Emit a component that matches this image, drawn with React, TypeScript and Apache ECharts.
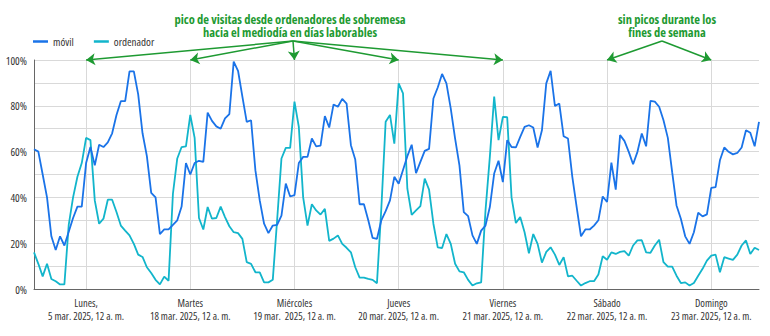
import React, { useEffect, useRef } from "react";
import * as echarts from "echarts";

const dayLabels = [
  "Lunes,\n5 mar. 2025, 12 a. m.",
  "Martes\n18 mar. 2025, 12 a. m.",
  "Miércoles\n19 mar.  2025, 12 a. m.",
  "Jueves\n20 mar. 2025, 12 a. m.",
  "Viernes\n21 mar. 2025, 12 a. m.",
  "Sábado\n22 mar. 2025, 12 a. m.",
  "Domingo\n23 mar. 2025, 12 a. m.",
];

const yTicks = [0, 20, 40, 60, 80, 100];

const mobile = [
  61, 60, 50, 40, 23, 17, 23, 19, 25, 31, 36, 36, 55, 62, 54, 63, 62, 64, 68, 76,
  82, 82, 95, 95, 85, 68, 58, 42, 40, 24, 26, 26, 28, 30, 36, 55, 50, 55, 56,
  55.5, 77, 73.4, 71, 70, 74.5, 76.4, 99.3, 95.3, 84, 73, 73.7, 51.8, 38.7, 28.5,
  24.4, 27.7, 28, 32, 46, 40.4, 41, 55, 57.7, 57.7, 65.7, 62.3, 62.6, 75.5, 70.5,
  80.6, 79.6, 83, 81, 62.8, 56.5, 37, 37, 30, 22.3, 21.9, 30, 34, 38.7,
  49, 46, 52, 58, 63, 50.6, 55.5, 60.3, 61.2, 83.2, 88, 93.9, 89.8, 78.8, 65.7, 54,
  33.6, 31.8, 23.4, 19.7, 25.5, 27.7, 35.8, 50.4, 56, 46.7, 65, 62, 61.8, 66.4,
  70.8, 71.5, 70.5, 61.8, 69.3, 89.8, 95.3, 79.9, 81, 66.7, 65.7, 49, 35.8, 23,
  26, 26, 27.7, 30, 40.4, 38, 55.2, 43.4, 67.2, 64.7, 59.9, 54.5, 59.9, 67.9, 62.3,
  82.2, 81.8, 79.6, 73.7, 66, 51, 36.5, 30.7, 23, 19.7, 24.8, 33.3, 31.7, 32.6,
  44.2, 44.5, 56.2, 61.8, 59.9, 58.8, 59.4, 61.8, 69.3, 68.2, 62.3, 73,
];

const desktop = [
  16, 11, 5.5, 11, 4.4, 3.4, 2, 2, 28, 40, 49, 55, 66, 65, 38.7, 28.5, 30.7, 39, 39,
  33.6, 27.7, 25.5, 23.4, 19.7, 15, 14, 9.5, 7, 4, 2, 5.4, 3.6, 41.6, 57, 62, 62.3,
  76, 66, 31,
  26, 35.8, 30.7, 31, 36, 31.4, 27.4, 24.8, 24.4, 21.9, 11.7, 11, 7.3, 7.3, 2.9, 2.9,
  4, 30, 57, 61.6, 61.6, 81.8, 70.8, 40, 27.7, 37, 34.3, 32.5, 35, 21, 22, 23.4,
  19.7, 18, 16, 9.5, 5, 5, 4.4, 4, 2.5, 35, 73, 76,
  63.5, 89.8, 85.4, 43.8, 32.4, 34.3, 36.2, 48.2, 43.4, 28.5, 18.2, 17.9, 24, 19.7,
  11, 7.7, 7.3, 4, 1.5, 2.5, 2.9, 34.3, 57.7, 84, 65, 75.2, 75, 40, 28.8, 31.4, 24.8,
  15.6, 24, 19.7, 11.5, 16.2, 18.2, 15, 10.5, 13.9, 5.5, 5.8, 3.6, 1.5,
  2.6, 3.4, 3.4, 6.3, 14.3, 12.8, 16, 15.3, 16.2, 16.5, 14.6, 19, 21.2, 21.3, 16,
  15.8, 19, 21.5, 11.7, 9.8, 9.8, 5.8, 2.6, 2.9, 1.5, 2.6, 5.8, 8.8, 12.4, 14.6, 15,
  7.3, 13.9, 13.3, 12.7, 15, 19, 21.2, 15.3, 18, 17,
];

const seriesNames = ["móvil", "ordenador"];
const annotationWeekday = ["pico de visitas desde ordenadores de sobremesa", "hacia el mediodía en días laborables"];
const annotationWeekend = ["sin picos durante los", "fines de semana"];

const BLUE = "#1a73e8";
const CYAN = "#12b5cb";
const GREEN = "#1e9a32";
const FONT = "'Open Sans', 'Noto Sans', sans-serif";
const XFONT = "'Open Sans', xlabfont, sans-serif";

export default function App() {
  const ref = useRef<HTMLDivElement>(null);
  useEffect(() => {
    if (!ref.current) return;
    const chart = echarts.init(ref.current, undefined, { renderer: "svg" });
    const hours = mobile.map((_, i) => String(i));
    const isDay = (i: number) => i % 24 === 12;
    const gridLeft = 34;
    const gridRight = 11;
    const plotW = 770 - gridLeft - gridRight;
    const xAt = (i: number) => gridLeft + (plotW * i) / (hours.length - 1);
    const topY = 60;
    const apex1 = { x: 293, y: 41 };
    const apex2 = { x: 662, y: 41 };
    const arrows1 = [12, 36, 60, 84, 108].map((i) => [
      { x: apex1.x, y: apex1.y },
      { x: xAt(i), y: topY },
    ]);
    const arrows2 = [132, 156].map((i) => [
      { x: apex2.x, y: apex2.y },
      { x: xAt(i), y: topY },
    ]);
    const textBlock = (lines: string[], x: number) =>
      lines.map((t, k) => ({
        type: "text",
        x,
        y: 19 + k * 13.5,
        style: {
          text: t,
          fill: GREEN,
          font: `bold 12.5px ${FONT}`,
          textAlign: "center",
          textVerticalAlign: "middle",
        },
      }));
    chart.setOption({
      animation: false,
      textStyle: { fontFamily: FONT },
      legend: {
        data: seriesNames.map((n) => ({ name: n, icon: "rect" })),
        left: 28,
        top: 31,
        itemWidth: 15,
        itemHeight: 2.5,
        itemGap: 13,
        textStyle: { fontSize: 11, color: "#333", fontFamily: FONT },
      },
      grid: { left: gridLeft, right: gridRight, top: topY, bottom: 47, containLabel: false, outerBoundsMode: "none" },
      xAxis: {
        type: "category",
        data: hours,
        boundaryGap: false,
        axisLine: { show: true, lineStyle: { color: "#666", width: 1 } },
        axisTick: { show: false },
        axisLabel: {
          interval: (i: number) => isDay(i),
          formatter: (_v: string, i: number) => (isDay(i) ? dayLabels[(i - 12) / 24] : ""),
          fontSize: 8,
          lineHeight: 13,
          color: "#333",
          margin: 7,
          hideOverlap: false,
          fontFamily: XFONT,
        },
        splitLine: {
          show: true,
          interval: (i: number) => isDay(i),
          lineStyle: { color: "#d9d9d9", width: 1 },
        },
      },
      yAxis: {
        type: "value",
        min: 0,
        max: 100,
        interval: 10,
        axisLine: { show: true, lineStyle: { color: "#666", width: 1 } },
        axisTick: { show: false },
        axisLabel: {
          formatter: (v: number) => (yTicks.includes(v) ? v + "%" : ""),
          fontSize: 11,
          color: "#333",
          margin: 7,
          fontFamily: FONT,
        },
        splitLine: { show: true, lineStyle: { color: "#d9d9d9", width: 1 } },
      },
      series: [
        {
          name: seriesNames[0],
          type: "line",
          data: mobile,
          symbol: "none",
          lineStyle: { color: BLUE, width: 1.8 },
          itemStyle: { color: BLUE },
          z: 3,
        },
        {
          name: seriesNames[1],
          type: "line",
          data: desktop,
          symbol: "none",
          lineStyle: { color: CYAN, width: 1.8 },
          itemStyle: { color: CYAN },
          z: 2,
          markLine: {
            silent: true,
            symbol: ["none", "arrow"],
            symbolSize: [9, 9],
            label: { show: false },
            lineStyle: { color: GREEN, width: 1.5, type: "solid" },
            data: [...arrows1, ...arrows2],
          },
        },
      ],
      graphic: [...textBlock(annotationWeekday, 290), ...textBlock(annotationWeekend, 667)],
    });
    return () => chart.dispose();
  }, []);
  return (
    <>
      <style>{`body{margin:0} #chartbox svg text{font-stretch:75% !important;} #chartbox svg text[style*="xlabfont"], #chartbox svg text[font-family*="xlabfont"]{font-size:10.5px !important;}`}</style>
      <div id="chartbox" ref={ref} style={{ width: 770, height: 336 }} />
    </>
  );
}
